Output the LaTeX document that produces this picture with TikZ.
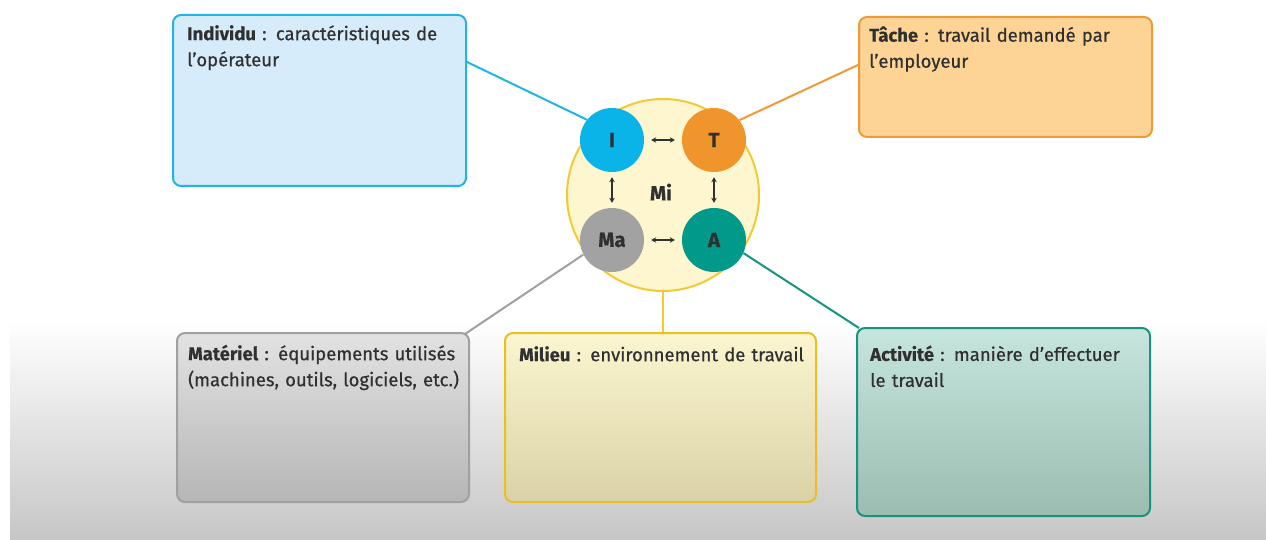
\documentclass[tikz,border=0pt]{standalone}
\usepackage{fontspec}
\setmainfont{Fira Sans}[UprightFeatures={FakeBold=0.6}, BoldFeatures={FakeBold=0.3}]
\usetikzlibrary{arrows.meta,calc}
\definecolor{txt}{HTML}{303030}
\definecolor{bggray}{HTML}{C6C6C6}
\definecolor{cI}{HTML}{0AB3E8}
\definecolor{cT}{HTML}{F0952B}
\definecolor{cMa}{HTML}{A2A2A2}
\definecolor{cA}{HTML}{00998A}
\definecolor{cMi}{HTML}{F2CA35}
\definecolor{fMi}{HTML}{FEF6CE}
\definecolor{fI}{HTML}{D6ECFA}
\definecolor{bI}{HTML}{1FB5E6}
\definecolor{fT}{HTML}{FDD495}
\definecolor{bT}{HTML}{EE9B36}
\definecolor{fMaT}{HTML}{E2E2E2}
\definecolor{fMaB}{HTML}{B6B6B6}
\definecolor{bMa}{HTML}{A0A0A0}
\definecolor{fMiT}{HTML}{FBF6D0}
\definecolor{fMiB}{HTML}{DAD2A6}
\definecolor{bMi}{HTML}{E8C020}
\definecolor{fAT}{HTML}{C6E6DD}
\definecolor{fAB}{HTML}{9BBCB1}
\definecolor{bA}{HTML}{17937F}
\begin{document}
\begin{tikzpicture}[x=1pt,y=-1pt,
  box/.style={rounded corners=8pt, line width=2pt, anchor=north west, inner sep=0pt},
  txtnode/.style={anchor=north west, inner sep=0pt, text width=320pt, align=left, text=txt,
    font=\fontsize{18.5}{26}\selectfont},
  disc/.style={circle, minimum size=64pt, inner sep=0pt, text=txt, font=\fontsize{20.5}{24}\selectfont\bfseries},
  conn/.style={line width=2pt},
  dbl/.style={line width=1.4pt, draw=txt, {Stealth[length=5pt,width=5.5pt]}-{Stealth[length=5pt,width=5.5pt]}}
]
\useasboundingbox (0,0) rectangle (1266,540);
\shade[top color=white, bottom color=bggray] (10,320) rectangle (1266,540);

% boxes
\node[box, draw=bI, fill=fI, minimum width=293pt, minimum height=171pt] (indiv) at (172,14) {};
\node[box, draw=bT, fill=fT, minimum width=293pt, minimum height=120pt] (tache) at (858,16) {};
\node[box, draw=bMa, top color=fMaT, bottom color=fMaB, minimum width=292pt, minimum height=169pt] (mat) at (176,332) {};
\node[box, draw=bMi, top color=fMiT, bottom color=fMiB, minimum width=311pt, minimum height=169pt] (mil) at (504,332) {};
\node[box, draw=bA, top color=fAT, bottom color=fAB, minimum width=293pt, minimum height=188pt] (act) at (856,327) {};

% texts
\node[txtnode] (indivT) at (187,21.8) {\strut\textbf{Individu} : caractéristiques de\\l’opérateur};
\node[txtnode] (tacheT) at (869,23.3) {\strut\textbf{Tâche} : travail demandé par\\l’employeur};
\node[txtnode] (matT) at (188,341.8) {\strut\textbf{Matériel} : équipements utilisés\\(machines, outils, logiciels, etc.)};
\node[txtnode] (milT) at (519,342.8) {\strut\textbf{Milieu} : environnement de travail};
\node[txtnode] (actT) at (870,342.5) {\strut\textbf{Activité} : manière d’effectuer\\le travail};

% central circle
\node[circle, minimum size=192pt, inner sep=0pt, fill=fMi, draw=cMi, line width=2pt] (Mi) at (663,195) {};
\node[text=txt, font=\fontsize{20.5}{24}\selectfont\bfseries] (MiT) at (661,192) {Mi};

% connectors (drawn under discs)
\draw[conn, draw=cMi] (Mi.south) -- (Mi.south |- mil.north);

\node[disc, fill=cI] (I) at (612,140) {I};
\node[disc, fill=cT] (T) at (714,140) {T};
\node[disc, fill=cMa] (Ma) at (612,240) {Ma};
\node[disc, fill=cA] (A) at (714,240) {A};

\draw[conn, draw=bI] ([yshift=-48pt]indiv.north east) -- (I.141);
\draw[conn, draw=bT] (T.38) -- ([yshift=-49pt]tache.north west);
\draw[conn, draw=bMa] (Ma.207) -- ([xshift=-5pt,yshift=-2pt]mat.north east);
\draw[conn, draw=bA] (A.-24) -- ([xshift=3pt,yshift=-1pt]act.north west);

% arrows
\draw[dbl, shorten <=7pt, shorten >=7pt] (I) -- (T);
\draw[dbl, shorten <=7pt, shorten >=7pt] (Ma) -- (A);
\draw[dbl, shorten <=5pt, shorten >=5pt] (I) -- (Ma);
\draw[dbl, shorten <=5pt, shorten >=5pt] (T) -- (A);
\end{tikzpicture}
\end{document}
